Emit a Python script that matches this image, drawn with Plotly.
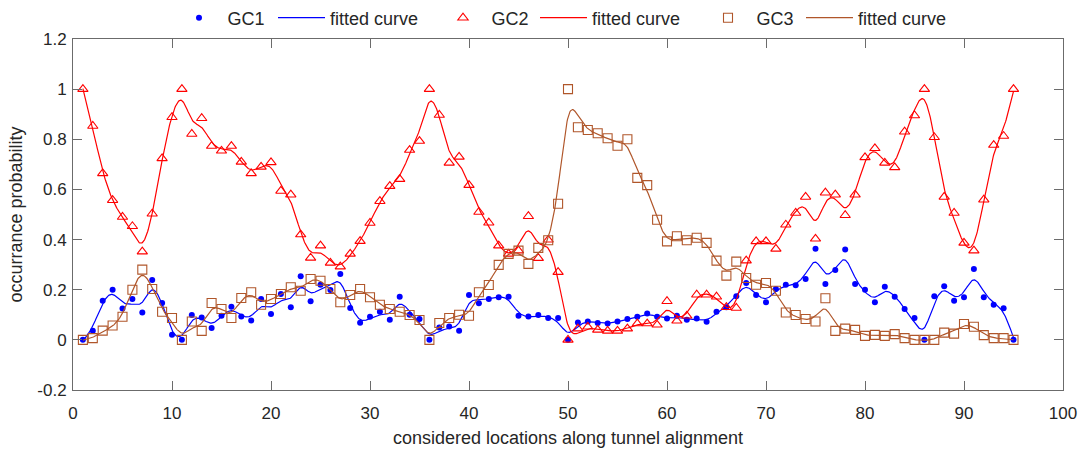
import numpy as np
import plotly.graph_objects as go

# ---------------- data ----------------
locations = list(range(1, 96))

gc1 = [0, 0.036, 0.156, 0.2, 0.125, 0.163, 0.109, 0.239, 0.147, 0.02,
       0, 0.099, 0.089, 0.047, 0.096, 0.132, 0.093, 0.077, 0.163, 0.103,
       0.183, 0.13, 0.254, 0.154, 0.22, 0.199, 0.263, 0.127, 0.068, 0.092,
       0.112, 0.08, 0.172, 0.1, 0.083, 0, 0.049, 0.053, 0.036, 0.179,
       0.146, 0.163, 0.17, 0.172, 0.096, 0.093, 0.099, 0.087, 0.087, 0,
       0.069, 0.073, 0.067, 0.065, 0.073, 0.083, 0.092, 0.105, 0.092, 0.085,
       0.096, 0.08, 0.085, 0.072, 0.112, 0.13, 0.174, 0.227, 0.179, 0.15,
       0.203, 0.22, 0.218, 0.243, 0.363, 0.223, 0.279, 0.36, 0.223, 0.2,
       0.15, 0.212, 0.172, 0.123, 0.087, 0, 0.174, 0.214, 0.156, 0.17,
       0.283, 0.17, 0.14, 0.126, 0]

gc2 = [1.0, 0.853, 0.664, 0.557, 0.49, 0.453, 0.352, 0.503, 0.724, 0.888,
       1.0, 0.821, 0.884, 0.773, 0.754, 0.773, 0.71, 0.664, 0.69, 0.708,
       0.594, 0.579, 0.42, 0.327, 0.376, 0.307, 0.292, 0.343, 0.394, 0.466,
       0.553, 0.613, 0.641, 0.757, 0.793, 1.0, 0.897, 0.706, 0.73, 0.617,
       0.51, 0.467, 0.376, 0.343, 0.356, 0.493, 0.326, 0.399, 0.27, 0,
       0.045, 0.052, 0.04, 0.036, 0.036, 0.045, 0.065, 0.065, 0.06, 0.154,
       0.076, 0.096, 0.18, 0.18, 0.172, 0.13, 0.127, 0.316, 0.393, 0.393,
       0.363, 0.459, 0.506, 0.57, 0.403, 0.587, 0.579, 0.497, 0.579, 0.728,
       0.764, 0.706, 0.688, 0.83, 0.895, 1.0, 0.808, 0.57, 0.506, 0.387,
       0.356, 0.559, 0.777, 0.813, 1.0]

gc3 = [0, 0.007, 0.037, 0.057, 0.092, 0.2, 0.28, 0.203, 0.112, 0.087,
       0, 0.073, 0.036, 0.147, 0.123, 0.087, 0.167, 0.19, 0.14, 0.163,
       0.183, 0.21, 0.196, 0.243, 0.236, 0.203, 0.15, 0.179, 0.203, 0.17,
       0.14, 0.123, 0.112, 0.099, 0.079, 0, 0.067, 0.087, 0.1, 0.096,
       0.19, 0.219, 0.299, 0.343, 0.356, 0.303, 0.367, 0.397, 0.543, 1.0,
       0.848, 0.837, 0.824, 0.804, 0.774, 0.8, 0.646, 0.617, 0.479, 0.393,
       0.413, 0.397, 0.407, 0.387, 0.316, 0.256, 0.312, 0.247, 0.22, 0.227,
       0.196, 0.109, 0.099, 0.083, 0.073, 0.166, 0.036, 0.045, 0.04, 0.016,
       0.02, 0.016, 0.023, 0.007, 0, 0, 0, 0.029, 0.025, 0.063,
       0.052, 0.019, 0.007, 0.007, 0]

series_names = ["GC1", "GC2", "GC3"]
fit_name = "fitted curve"

x_tick_vals = [0, 10, 20, 30, 40, 50, 60, 70, 80, 90, 100]
x_tick_text = ["0", "10", "20", "30", "40", "50", "60", "70", "80", "90", "100"]
y_tick_vals = [-0.2, 0, 0.2, 0.4, 0.6, 0.8, 1.0, 1.2]
y_tick_text = ["-0.2", "0", "0.2", "0.4", "0.6", "0.8", "1", "1.2"]

x_title = "considered locations along tunnel alignment"
y_title = "occurrance probability"


# ------------- smoothing spline fit (penalised least squares) -------------
def smoothing_fit(x, y, lam=0.1, step=0.05):
    x = np.asarray(x, float)
    y = np.asarray(y, float)
    grid = np.arange(x.min(), x.max() + step / 2, step)
    n = grid.size
    idx = np.rint((x - x.min()) / step).astype(int)
    W = np.zeros(n)
    b = np.zeros(n)
    np.add.at(W, idx, 1.0)
    np.add.at(b, idx, y)
    D = np.zeros((n - 2, n))
    r = np.arange(n - 2)
    D[r, r] = 1.0
    D[r, r + 1] = -2.0
    D[r, r + 2] = 1.0
    A = np.diag(W) + (lam / step ** 3) * (D.T @ D)
    f = np.linalg.solve(A, b)
    return grid, f


FONT = "Liberation Sans, Arial, Helvetica, sans-serif"
TXT = "#262626"
AXC = "#6b6b6b"

c_blue = "#0000ff"
c_red = "#ff0000"
c_brown = "#b0562a"

# legend item origins (px from left of page), one small legend per entry
legend_origin_px = [170.5, 273, 434.5, 535, 699.5, 801]
ITEM_W = 47

fig = go.Figure()

specs = [
    (gc1, series_names[0], c_blue, dict(symbol="circle", size=6, color=c_blue, line=dict(width=0))),
    (gc2, series_names[1], c_red, dict(symbol="triangle-up-open", size=9, color=c_red, line=dict(width=1.1, color=c_red))),
    (gc3, series_names[2], c_brown, dict(symbol="square-open", size=9, color=c_brown, line=dict(width=1.1, color=c_brown))),
]

legend_ids = ["legend", "legend2", "legend3", "legend4", "legend5", "legend6"]
k = 0
for vals, name, col, mk in specs:
    fig.add_trace(go.Scatter(x=locations, y=vals, mode="markers", name=name,
                             marker=mk, cliponaxis=False, legend=legend_ids[k]))
    k += 1
    gx, gy = smoothing_fit(locations, vals)
    fig.add_trace(go.Scatter(x=gx, y=gy, mode="lines", name=fit_name,
                             line=dict(color=col, width=1.2), legend=legend_ids[k]))
    k += 1

axis_common = dict(
    showline=True, linecolor=AXC, linewidth=1, mirror="ticks",
    ticks="inside", ticklen=9, tickwidth=1, tickcolor=AXC,
    showgrid=False, zeroline=False,
    tickfont=dict(family=FONT, size=17, color=TXT),
)

fig.update_xaxes(range=[0, 100], tickvals=x_tick_vals, ticktext=x_tick_text,
                 ticklabelstandoff=8,
                 title=dict(text=x_title, font=dict(family=FONT, size=18, color=TXT), standoff=8),
                 **axis_common)
fig.update_yaxes(range=[-0.2, 1.2], tickvals=y_tick_vals, ticktext=y_tick_text,
                 ticklabelstandoff=2,
                 title=dict(text=y_title, font=dict(family=FONT, size=18, color=TXT), standoff=10),
                 **axis_common)

legend_layout = {}
for lid, px in zip(legend_ids, legend_origin_px):
    legend_layout[lid] = dict(
        orientation="h", xref="container", yref="container",
        x=px / 1081, xanchor="left", y=1 - 18 / 457, yanchor="middle",
        itemwidth=ITEM_W, font=dict(family=FONT, size=18, color=TXT),
        bgcolor="rgba(0,0,0,0)", borderwidth=0,
    )

fig.update_layout(
    width=1081, height=457,
    margin=dict(l=73, r=18, t=39, b=67, pad=0, autoexpand=False),
    paper_bgcolor="white", plot_bgcolor="white",
    font=dict(family=FONT, size=18, color=TXT),
    showlegend=True,
    **legend_layout,
)

fig.write_html("out.html")
